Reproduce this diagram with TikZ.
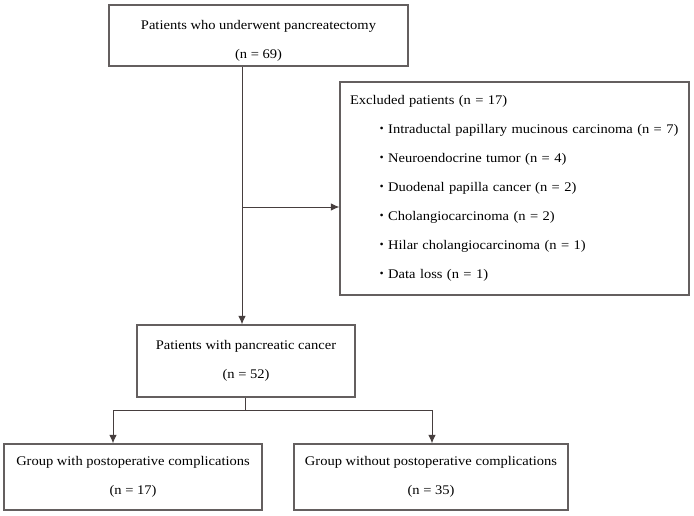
\documentclass[tikz,border=0pt]{standalone}
\usepackage{fontspec}
\setmainfont{Liberation Serif}[FakeStretch=1.1]
\newfontfamily\cjk{Noto Sans CJK JP}
\usetikzlibrary{arrows.meta}

\begin{document}
\begin{tikzpicture}[x=1pt,y=-1pt,
  font=\fontsize{13.2pt}{29pt}\selectfont,
  box/.style={draw=boxgray, line width=1.3pt, align=center, inner sep=0pt},
  flow/.style={draw=linkdark, line width=0.9pt},
  flowarrow/.style={flow, -{Latex[length=8.5pt,width=7.5pt]}}]
  \definecolor{boxgray}{RGB}{100,95,95}
  \definecolor{linkdark}{RGB}{70,62,62}

  \useasboundingbox (0,0) rectangle (694,516);

  % boxes
  \node[box, minimum width=299pt, minimum height=61pt, text height=48pt] (operated)
    at (258.5,35.5) {Patients who underwent pancreatectomy\\(n = 69)};
  \node[box, minimum width=349pt, minimum height=213pt, align=left, text width=329pt]
    (excluded) at (514.5,188.5) {Excluded patients (n = 17)\\
      \hspace*{25pt}{\cjk ・}Intraductal papillary mucinous carcinoma (n = 7)\\
      \hspace*{25pt}{\cjk ・}Neuroendocrine tumor (n = 4)\\
      \hspace*{25pt}{\cjk ・}Duodenal papilla cancer (n = 2)\\
      \hspace*{25pt}{\cjk ・}Cholangiocarcinoma (n = 2)\\
      \hspace*{25pt}{\cjk ・}Hilar cholangiocarcinoma (n = 1)\\
      \hspace*{25pt}{\cjk ・}Data loss (n = 1)};
  \node[box, minimum width=218pt, minimum height=72pt] (cancer) at (246,361)
    {Patients with pancreatic cancer\\(n = 52)};
  \node[box, minimum width=258pt, minimum height=66pt] (withcomp) at (133,477)
    {Group with postoperative complications\\(n = 17)};
  \node[box, minimum width=274pt, minimum height=66pt] (withoutcomp) at (431,477)
    {Group without postoperative complications\\(n = 35)};

  % connectors
  \coordinate (trunk) at (242,207);
  \coordinate (fork) at (245,410);
  \coordinate (leftdrop) at (113,410);
  \coordinate (rightdrop) at (432,410);

  \draw[flowarrow] (trunk |- operated.south) -- (trunk |- cancer.north);
  \draw[flowarrow] (trunk) -- (trunk -| excluded.west);
  \draw[flow] (fork |- cancer.south) -- (fork);
  \draw[flow] (leftdrop) -- (rightdrop);
  \draw[flowarrow] (leftdrop) -- (leftdrop |- withcomp.north);
  \draw[flowarrow] (rightdrop) -- (rightdrop |- withoutcomp.north);
\end{tikzpicture}
\end{document}
